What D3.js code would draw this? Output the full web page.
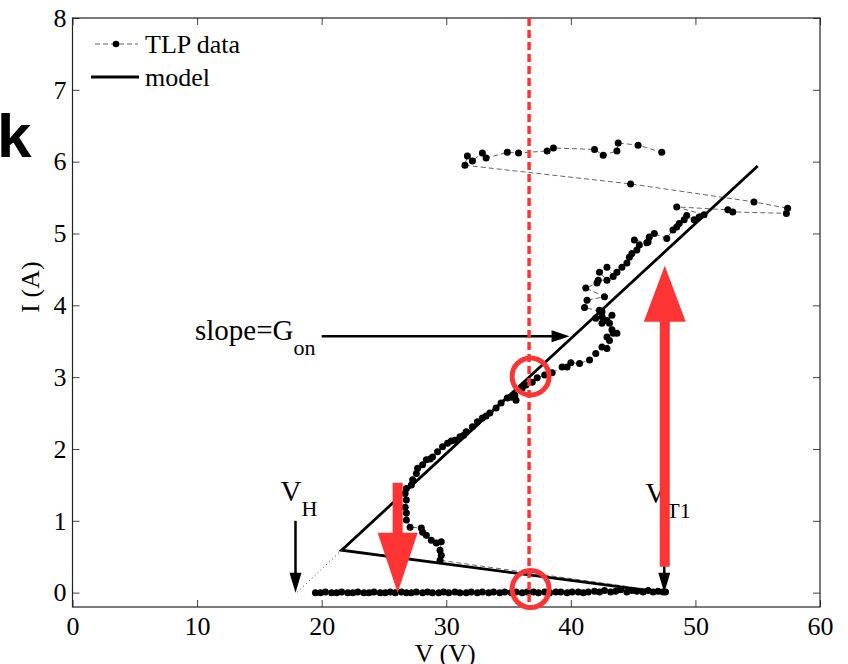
<!DOCTYPE html>
<html><head><meta charset="utf-8">
<script src="https://cdn.jsdelivr.net/npm/d3@7/dist/d3.min.js"></script>
<style>
html,body{margin:0;padding:0;background:#fff;}
svg{display:block;}
</style></head>
<body>
<svg id="chart" width="848" height="664"></svg>
<script>
// ---------- data ----------
const xTicks = [0, 10, 20, 30, 40, 50, 60];
const yTicks = [0, 1, 2, 3, 4, 5, 6, 7, 8];
const xLabel = "V (V)";
const yLabel = "I (A)";
const legendLabels = ["TLP data", "model"];

// TLP measured sequence (V, I)
const tlpV = [
  19.5, 19.9, 20.3, 20.8, 21.2, 21.6, 22.1, 22.5, 22.9, 23.4, 23.8, 24.2, 24.7, 25.1, 25.5, 25.9,
  26.4, 26.8, 27.2, 27.6, 28.1, 28.5, 28.9, 29.4, 29.8, 30.2, 30.7, 31.1, 31.6, 32.0, 32.5, 32.9,
  33.4, 33.8, 34.3, 34.7, 35.2, 35.6, 36.1, 36.5, 37.0, 37.4, 37.9, 38.3, 38.8, 39.2, 39.7, 40.1,
  40.6, 41.0, 41.4, 41.9, 42.3, 42.7, 43.2, 43.6, 44.0, 44.5, 44.9, 45.3, 45.8, 46.2, 46.6, 47.0,
  47.4, 47.6,
  29.5, 29.6, 29.5, 29.6, 29.2, 28.8, 28.4, 28.1, 28.0, 27.1, 26.8, 26.8, 26.7, 26.8, 26.7, 26.8,
  27.2, 27.3, 27.6, 27.7, 28.1, 28.4, 28.7, 28.9, 29.3, 29.7, 30.1, 30.4, 30.7, 31.1, 31.4, 31.6,
  32.1, 32.5, 32.9, 33.2, 33.5, 34.0, 34.4, 34.9, 35.2, 35.5, 35.6, 36.1,
  36.4, 36.9, 37.3, 37.9, 38.5, 39.3, 39.7, 40.0, 40.7, 41.5, 42.0, 42.5, 42.9, 43.1, 42.9, 43.4,
  43.7, 43.3, 43.1, 42.5, 42.9, 43.3, 42.5, 42.0, 42.3, 42.5,
  41.1, 41.3, 42.7, 41.2, 42.1, 42.2, 42.9, 42.3, 42.9, 43.4, 43.7, 44.1, 44.5, 44.7, 44.9, 45.3,
  45.5, 45.1, 46.1, 46.2, 46.3, 46.7, 47.7, 48.2, 48.5, 48.7, 49.1, 49.3, 49.9, 50.3, 50.7,
  48.5, 52.6, 53.0, 57.3, 57.4, 54.7, 44.8,
  31.5, 31.7, 32.1, 32.9, 33.2, 34.9, 35.8, 38.1, 38.6, 41.9, 42.6, 43.7, 43.8, 45.4, 47.3
];
const tlpI = [
  0.00, 0.00, 0.01, 0.00, 0.00, 0.01, 0.00, 0.00, 0.01, 0.00, 0.00, 0.01, 0.00, 0.00, 0.01, 0.00,
  0.01, 0.00, 0.00, 0.01, 0.00, 0.01, 0.00, 0.00, 0.01, 0.00, 0.01, 0.00, 0.00, 0.01, 0.00, 0.01,
  0.00, 0.01, 0.00, 0.01, 0.00, 0.01, 0.00, 0.01, 0.01, 0.00, 0.01, 0.00, 0.01, 0.01, 0.00, 0.01,
  0.01, 0.00, 0.01, 0.02, 0.01, 0.03, 0.01, 0.02, 0.04, 0.01, 0.03, 0.02, 0.01, 0.03, 0.01, 0.02,
  0.01, 0.01,
  0.45, 0.52, 0.59, 0.71, 0.69, 0.73, 0.80, 0.84, 0.90, 0.91, 1.01, 1.11, 1.19, 1.29, 1.38, 1.45,
  1.50, 1.57, 1.66, 1.73, 1.78, 1.85, 1.86, 1.89, 1.96, 2.03, 2.08, 2.11, 2.12, 2.17, 2.19, 2.24,
  2.31, 2.38, 2.43, 2.46, 2.50, 2.57, 2.64, 2.71, 2.72, 2.75, 2.68, 2.85,
  2.89, 2.93, 2.99, 3.03, 3.06, 3.14, 3.14, 3.20, 3.19, 3.24, 3.33, 3.42, 3.40, 3.51, 3.56, 3.61,
  3.61, 3.66, 3.75, 3.75, 3.79, 3.86, 3.84, 3.82, 3.93, 3.91,
  3.97, 4.07, 4.12, 4.24, 4.31, 4.35, 4.35, 4.46, 4.53, 4.40, 4.46, 4.53, 4.59, 4.67, 4.72, 4.77,
  4.84, 4.91, 4.87, 4.88, 4.95, 5.00, 4.93, 5.05, 5.09, 5.14, 5.19, 5.25, 5.19, 5.23, 5.26,
  5.37, 5.33, 5.30, 5.28, 5.35, 5.44, 5.69,
  5.95, 6.08, 6.01, 6.12, 6.05, 6.13, 6.12, 6.15, 6.19, 6.17, 6.09, 6.15, 6.26, 6.23, 6.13
];

// piecewise-linear snapback model
const modelV = [47.5, 21.6, 55.0];
const modelI = [0.0, 0.59, 5.94];
// dotted extrapolation to the holding voltage
const extrapV = [21.6, 18.0];
const extrapI = [0.59, 0.0];

// annotations (data coordinates)
const vH = 17.9, vT1 = 47.5;
const markerV = 36.65;            // red dashed vertical line
const circleI = [3.01, 0.05];     // red circles on the marker line
const slopeArrow = {v0: 20.0, v1: 39.9, i: 3.57};
const redDown = {v: 26.1, iTop: 1.53, iTip: 0.0};
const redUp = {v: 47.5, iBottom: 0.36, iTip: 4.55};

// ---------- drawing ----------
const W = 848, H = 664;
const svg = d3.select("#chart");
svg.append("rect").attr("width", W).attr("height", H).attr("fill", "#fff");

const L = 72.5, R = 820, T = 18, B = 607;
const x = d3.scaleLinear().domain([0, 60]).range([L, R]);
const y = d3.scaleLinear().domain([-0.2, 8]).range([B, T]);

const serif = "'Liberation Serif','Times New Roman',Times,serif";
const red = "#ff3535";

// axes with inward ticks (MATLAB style box)
const gx = svg.append("g").attr("transform", `translate(0,${B})`)
  .call(d3.axisBottom(x).tickValues(xTicks).tickFormat(d3.format("d")).tickSizeInner(-7).tickSizeOuter(0).tickPadding(10));
const gxt = svg.append("g").attr("transform", `translate(0,${T})`)
  .call(d3.axisTop(x).tickValues(xTicks).tickFormat("").tickSizeInner(-7).tickSizeOuter(0));
const gy = svg.append("g").attr("transform", `translate(${L},0)`)
  .call(d3.axisLeft(y).tickValues(yTicks).tickFormat(d3.format("d")).tickSizeInner(-7).tickSizeOuter(0).tickPadding(6));
const gyr = svg.append("g").attr("transform", `translate(${R},0)`)
  .call(d3.axisRight(y).tickValues(yTicks).tickFormat("").tickSizeInner(-7).tickSizeOuter(0));
[gx, gxt, gy, gyr].forEach(g => {
  g.select(".domain").remove();
  g.selectAll(".tick line").attr("stroke", "#444").attr("stroke-width", 1);
  g.selectAll("text").attr("font-family", serif).attr("font-size", 26).attr("fill", "#000");
});
svg.append("rect").attr("x", L).attr("y", T).attr("width", R - L).attr("height", B - T)
  .attr("fill", "none").attr("stroke", "#222").attr("stroke-width", 1.2);

// axis labels
svg.append("text").attr("x", (L + R) / 2 - 1).attr("y", 662).attr("text-anchor", "middle")
  .attr("font-family", serif).attr("font-size", 26).text(xLabel);
svg.append("text").attr("transform", `translate(39,287) rotate(-90)`).attr("text-anchor", "middle")
  .attr("font-family", serif).attr("font-size", 26).text(yLabel);

// big panel letter
svg.append("text").attr("x", -3).attr("y", 157).attr("font-family", "'Liberation Sans',Arial,sans-serif")
  .attr("font-weight", "bold").attr("font-size", 62).text("k");

// TLP data
const tlp = tlpV.map((v, k) => [v, tlpI[k]]);
const line = d3.line().x(d => x(d[0])).y(d => y(d[1]));
svg.append("path").attr("d", line(tlp)).attr("fill", "none").attr("stroke", "#555")
  .attr("stroke-width", 0.9).attr("stroke-dasharray", "5,3");
svg.append("g").selectAll("circle").data(tlp).join("circle")
  .attr("cx", d => x(d[0])).attr("cy", d => y(d[1])).attr("r", 3.5).attr("fill", "#000");

// model
svg.append("path").attr("d", line(modelV.map((v, k) => [v, modelI[k]])))
  .attr("fill", "none").attr("stroke", "#000").attr("stroke-width", 2.8).attr("stroke-linejoin", "miter");
svg.append("path").attr("d", line(extrapV.map((v, k) => [v, extrapI[k]])))
  .attr("fill", "none").attr("stroke", "#333").attr("stroke-width", 1).attr("stroke-dasharray", "1,3");

// black arrows
function blackArrowDown(v, i0, i1) {
  const px = x(v), yt = y(i0), yb = y(i1);
  svg.append("line").attr("x1", px).attr("x2", px).attr("y1", yt).attr("y2", yb - 18)
    .attr("stroke", "#000").attr("stroke-width", 2.5);
  svg.append("path").attr("d", `M${px - 6},${yb - 20}L${px + 6},${yb - 20}L${px},${yb}Z`).attr("fill", "#000");
}
blackArrowDown(vH, 1.0, 0.0);
blackArrowDown(vT1, 0.85, 0.0);

// slope arrow
{
  const x0 = x(slopeArrow.v0), x1 = x(slopeArrow.v1), py = y(slopeArrow.i);
  svg.append("line").attr("x1", x0).attr("x2", x1 - 16).attr("y1", py).attr("y2", py)
    .attr("stroke", "#000").attr("stroke-width", 2.5);
  svg.append("path").attr("d", `M${x1 - 18},${py - 6}L${x1},${py}L${x1 - 18},${py + 6}Z`).attr("fill", "#000");
}

// text annotations
function subText(xp, yp, main, sub, size, subSize) {
  const t = svg.append("text").attr("x", xp).attr("y", yp).attr("font-family", serif).attr("font-size", size);
  t.append("tspan").text(main);
  t.append("tspan").attr("dy", 15).attr("font-size", subSize).text(sub);
}
subText(195, 340, "slope=G", "on", 29, 22);
subText(x(vH) - 15, 501, "V", "H", 29, 22);
subText(x(vT1) - 19, 503, "V", "T1", 29, 22);

// red dashed marker line & circles
svg.append("line").attr("x1", x(markerV)).attr("x2", x(markerV)).attr("y1", y(8)).attr("y2", y(-0.2))
  .attr("stroke", red).attr("stroke-width", 3.5).attr("stroke-dasharray", "8,4");
svg.append("g").selectAll("circle").data(circleI).join("circle")
  .attr("cx", x(markerV) + 1.5).attr("cy", d => y(d)).attr("r", 18.5)
  .attr("fill", "none").attr("stroke", red).attr("stroke-width", 5);

// red arrows
{
  const px = x(redDown.v), yt = y(redDown.iTop), yb = y(redDown.iTip);
  svg.append("path").attr("d",
    `M${px - 5},${yt}L${px + 5},${yt}L${px + 5},${yb - 60}L${px + 20},${yb - 60}L${px},${yb}L${px - 20},${yb - 60}L${px - 5},${yb - 60}Z`)
    .attr("fill", red);
}
{
  const px = x(redUp.v) + 0.5, yb = y(redUp.iBottom), yt = y(redUp.iTip);
  svg.append("path").attr("d",
    `M${px - 5},${yb}L${px + 5},${yb}L${px + 5},${yt + 56}L${px + 21},${yt + 56}L${px},${yt}L${px - 21},${yt + 56}L${px - 5},${yt + 56}Z`)
    .attr("fill", red);
}

// legend
{
  const lg = svg.append("g");
  lg.append("line").attr("x1", 95).attr("x2", 138).attr("y1", 44).attr("y2", 44)
    .attr("stroke", "#555").attr("stroke-width", 0.9).attr("stroke-dasharray", "5,3");
  lg.append("circle").attr("cx", 116).attr("cy", 44).attr("r", 3.3).attr("fill", "#000");
  lg.append("text").attr("x", 145).attr("y", 53).attr("font-family", serif).attr("font-size", 26).text(legendLabels[0]);
  lg.append("line").attr("x1", 91).attr("x2", 139).attr("y1", 77).attr("y2", 77)
    .attr("stroke", "#000").attr("stroke-width", 3);
  lg.append("text").attr("x", 145).attr("y", 86).attr("font-family", serif).attr("font-size", 26).text(legendLabels[1]);
}
</script>
</body></html>
